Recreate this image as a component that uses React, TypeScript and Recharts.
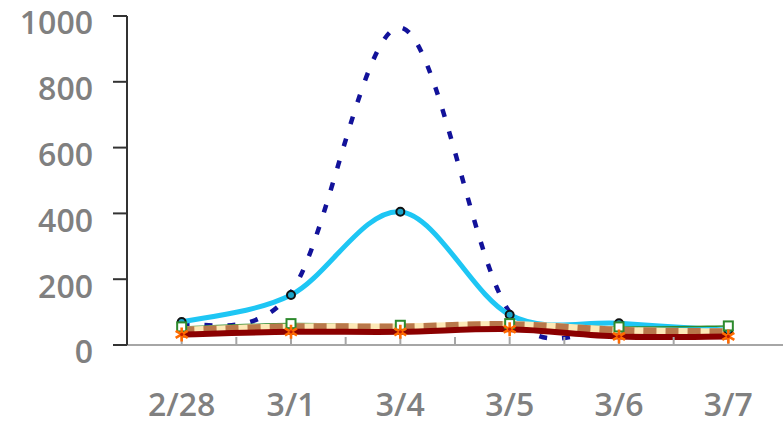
import React from "react";
import { LineChart, Line, XAxis, YAxis } from "recharts";

const categories = ["2/28", "3/1", "3/4", "3/5", "3/6", "3/7"];
const navySeries = [60, 160, 965, 100, 50, 40];
const cyanSeries = [70, 152, 405, 92, 66, 45];
const greenSeries = [55, 65, 60, 65, 55, 58];
const tanSeries = [45, 55, 55, 62, 45, 40];
const redSeries = [32, 40, 40, 48, 26, 26];
const yTicks = [0, 200, 400, 600, 800, 1000];
const xTicks = [0, 0.5, 1, 1.5, 2, 2.5, 3, 3.5, 4, 4.5, 5];

const data = categories.map((name, i) => ({
  x: i,
  name,
  navy: navySeries[i],
  cyan: cyanSeries[i],
  green: greenSeries[i],
  tan: tanSeries[i],
  red: redSeries[i]
}));

// Catmull-Rom style smoothing (like spreadsheet "smoothed line")
const smooth = (ctx: any) => {
  let pts: [number, number][] = [];
  return {
    areaStart() {},
    areaEnd() {},
    lineStart() {
      pts = [];
    },
    point(x: number, y: number) {
      pts.push([+x, +y]);
    },
    lineEnd() {
      if (!pts.length) return;
      ctx.moveTo(pts[0][0], pts[0][1]);
      for (let i = 0; i < pts.length - 1; i++) {
        const p0 = pts[Math.max(i - 1, 0)];
        const p1 = pts[i];
        const p2 = pts[i + 1];
        const p3 = pts[Math.min(i + 2, pts.length - 1)];
        ctx.bezierCurveTo(
          p1[0] + (p2[0] - p0[0]) / 6,
          p1[1] + (p2[1] - p0[1]) / 6,
          p2[0] - (p3[0] - p1[0]) / 6,
          p2[1] - (p3[1] - p1[1]) / 6,
          p2[0],
          p2[1]
        );
      }
    }
  };
};

const CircleDot = (props: any) => (
  <circle key={props.index} cx={props.cx} cy={props.cy} r={4} stroke="#111" strokeWidth={2} fill="#1aa3c8" />
);

const SquareDot = (props: any) => (
  <rect key={props.index} x={props.cx - 4.5} y={props.cy - 4.5} width={9} height={9} stroke="#2d8a2d" strokeWidth={2} fill="#ffffff" />
);

const StarDot = (props: any) => {
  const { cx, cy, index } = props;
  return (
    <g key={index}>
      <path
        d={`M${cx},${cy - 7}L${cx},${cy + 7}M${cx - 6},${cy - 3.5}L${cx + 6},${cy + 3.5}M${cx - 6},${cy + 3.5}L${cx + 6},${cy - 3.5}`}
        stroke="#ff6a00"
        strokeWidth={2.6}
      />
      <circle cx={cx} cy={cy} r={1.6} fill="#c41e00" />
    </g>
  );
};

const yTickStyle = { fill: "#808080", fontSize: 32, fontFamily: "Open Sans", fontWeight: 600, dy: 7 };
const xTickStyle = { fill: "#808080", fontSize: 32, fontFamily: "Open Sans", fontWeight: 600 };

export default function App() {
  return (
    <div style={{ position: "absolute", left: 0, top: 0, background: "#fff" }}>
      <LineChart width={783} height={425} data={data} margin={{ top: 16, right: 0, bottom: 0, left: 0 }}>
        <XAxis
          type="number"
          dataKey="x"
          domain={[-0.5, 5.5]}
          ticks={xTicks}
          tickFormatter={(v: number) => (Number.isInteger(v) ? categories[v] : "")}
          height={80}
          tickSize={-8}
          tickMargin={56}
          stroke="#a6a6a6"
          strokeWidth={2}
          tick={xTickStyle}
          interval={0}
        />
        <YAxis
          domain={[0, 1000]}
          ticks={yTicks}
          width={127}
          tickSize={14}
          tickMargin={20}
          stroke="#333"
          strokeWidth={2}
          tick={yTickStyle}
          interval={0}
        />
        <Line
          type={smooth as any}
          dataKey="navy"
          stroke="#12129a"
          strokeWidth={4.5}
          strokeDasharray="8 15"
          dot={false}
          isAnimationActive={false}
        />
        <Line
          type={smooth as any}
          dataKey="cyan"
          stroke="#1ec6f4"
          strokeWidth={5}
          dot={CircleDot}
          isAnimationActive={false}
        />
        <Line
          type={smooth as any}
          dataKey="green"
          stroke="#2d8a2d"
          strokeWidth={1.5}
          dot={SquareDot}
          isAnimationActive={false}
        />
        <Line
          type={smooth as any}
          dataKey="tan"
          stroke="#fde8b6"
          strokeWidth={7}
          dot={false}
          isAnimationActive={false}
        />
        <Line
          type={smooth as any}
          dataKey="tan"
          stroke="#b9774a"
          strokeWidth={7}
          strokeDasharray="13 9"
          dot={false}
          isAnimationActive={false}
        />
        <Line
          type={smooth as any}
          dataKey="red"
          stroke="#8b0000"
          strokeWidth={6}
          dot={StarDot}
          isAnimationActive={false}
        />
      </LineChart>
    </div>
  );
}
